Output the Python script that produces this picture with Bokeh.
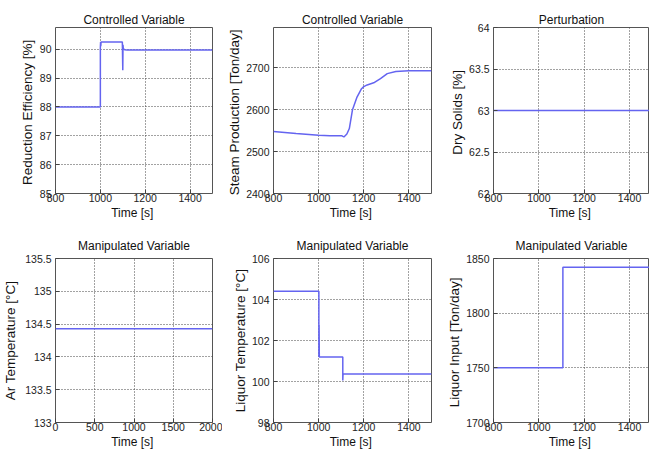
from bokeh.plotting import figure
from bokeh.layouts import column, row
from bokeh.models import FixedTicker, Range1d, CustomJSTickFormatter
from bokeh.embed import file_html
from bokeh.resources import INLINE

# ---------------- data ----------------
titles = ["Controlled Variable", "Controlled Variable", "Perturbation",
          "Manipulated Variable", "Manipulated Variable", "Manipulated Variable"]
ylabels = ["Reduction Efficiency  [%]", "Steam Production  [Ton/day]", "Dry Solids  [%]",
           "Ar Temperature [°C]", "Liquor Temperature [°C]", "Liquor Input  [Ton/day]"]
xlabel = "Time  [s]"

xticks_a = [800, 1000, 1200, 1400]
xticks_b = [0, 500, 1000, 1500, 2000]

# Reduction efficiency
t1 = [800, 1000, 1000, 1001, 1002, 1003, 1098, 1100, 1101, 1102, 1104, 1108, 1120, 1500]
v1 = [88.0, 88.0, 90.05, 90.25, 90.1, 90.25, 90.25, 89.27, 90.15, 90.05, 90.0, 89.98, 89.97, 89.97]
y1ticks = [85, 86, 87, 88, 89, 90]

# Steam production
t2 = [800, 900, 1000, 1050, 1100, 1105, 1112, 1125, 1136, 1150, 1170, 1190, 1200, 1215,
      1244, 1274, 1304, 1342, 1400, 1500]
v2 = [2548, 2543, 2539, 2538, 2538, 2537, 2535, 2542, 2555, 2600, 2630, 2650, 2655, 2659,
      2664, 2674, 2686, 2691, 2693, 2693]
y2ticks = [2400, 2500, 2600, 2700]

# Dry solids
t3 = [800, 1500]
v3 = [63.0, 63.0]
y3ticks = [62, 62.5, 63, 63.5, 64]

# Ar temperature
t4 = [0, 2000]
v4 = [134.43, 134.43]
y4ticks = [133, 133.5, 134, 134.5, 135, 135.5]

# Liquor temperature
t5 = [800, 1001, 1001, 1002, 1003, 1107, 1107, 1108, 1500]
v5 = [104.4, 104.4, 101.2, 102.75, 101.2, 101.2, 100.05, 100.37, 100.37]
y5ticks = [98, 100, 102, 104, 106]

# Liquor input
t6 = [800, 1106, 1106, 1500]
v6 = [1750, 1750, 1842, 1842]
y6ticks = [1700, 1750, 1800, 1850]

FONT = "Liberation Sans"
LINE = "#6464f0"

fmt = CustomJSTickFormatter(code="return tick.toString();")


def panel(title, ylabel, xr, yr, xt, yt, t, v, w, h, bl, br, bt, bb, tstand, ylstand):
    p = figure(width=w, height=h, x_range=Range1d(*xr), y_range=Range1d(*yr),
               output_backend="svg", toolbar_location=None, tools="",
               min_border_left=bl, min_border_right=br,
               min_border_top=bt, min_border_bottom=bb)
    p.title.text = title
    p.title.align = "center"
    p.title.text_font = FONT
    p.title.text_font_size = "12px"
    p.title.text_font_style = "normal"
    p.title.text_color = "#111111"
    p.title.standoff = tstand
    p.outline_line_color = "#555555"
    p.outline_line_width = 1
    p.background_fill_color = "white"
    p.border_fill_color = "white"
    for ax, ticks in ((p.xaxis[0], xt), (p.yaxis[0], yt)):
        ax.ticker = FixedTicker(ticks=ticks)
        ax.formatter = fmt
        ax.axis_line_color = None
        ax.major_tick_in = 4
        ax.major_tick_out = 0
        ax.major_tick_line_color = "#444444"
        ax.minor_tick_line_color = None
        ax.major_label_text_font = FONT
        ax.major_label_text_font_size = "10.5px"
        ax.major_label_text_color = "#222222"
        ax.axis_label_text_font = FONT
        ax.axis_label_text_font_style = "normal"
        ax.axis_label_text_color = "#111111"
    p.xaxis[0].axis_label = xlabel
    p.xaxis[0].axis_label_text_font_size = "12px"
    p.xaxis[0].major_label_standoff = 0
    p.xaxis[0].axis_label_standoff = 1
    p.yaxis[0].axis_label = ylabel
    p.yaxis[0].axis_label_text_font_size = "13.5px"
    p.yaxis[0].major_label_standoff = 4
    p.yaxis[0].axis_label_standoff = ylstand
    p.xgrid.ticker = FixedTicker(ticks=xt)
    p.ygrid.ticker = FixedTicker(ticks=yt)
    for g in (p.xgrid[0], p.ygrid[0]):
        g.grid_line_color = "#444444"
        g.grid_line_dash = "1 2"
        g.grid_line_width = 1
    p.line(t, v, line_color=LINE, line_width=1.5)
    return p


p1 = panel(titles[0], ylabels[0], (800, 1500), (85, 90.75), xticks_a, y1ticks, t1, v1,
           222, 229, 55, 10, 27, 36, 2, 2)
p2 = panel(titles[1], ylabels[1], (800, 1500), (2400, 2796), xticks_a, y2ticks, t2, v2,
           220, 229, 51, 11, 27, 36, 2, 1)
p3 = panel(titles[2], ylabels[2], (800, 1488), (62, 64), xticks_a, y3ticks, t3, v3,
           207, 229, 51, 0, 27, 36, 2, 1)
p4 = panel(titles[3], ylabels[3], (0, 2000), (133, 135.5), xticks_b, y4ticks, t4, v4,
           222, 228, 53, 10, 29, 35, 12, 4)
p5 = panel(titles[4], ylabels[4], (800, 1500), (98, 106), xticks_a, y5ticks, t5, v5,
           220, 228, 51, 11, 29, 35, 12, 1)
p6 = panel(titles[5], ylabels[5], (800, 1488), (1700, 1850), xticks_a, y6ticks, t6, v6,
           207, 228, 51, 0, 29, 35, 12, 1)

layout = column(row(p1, p2, p3), row(p4, p5, p6))
open("out.html", "w").write(file_html(layout, INLINE))
